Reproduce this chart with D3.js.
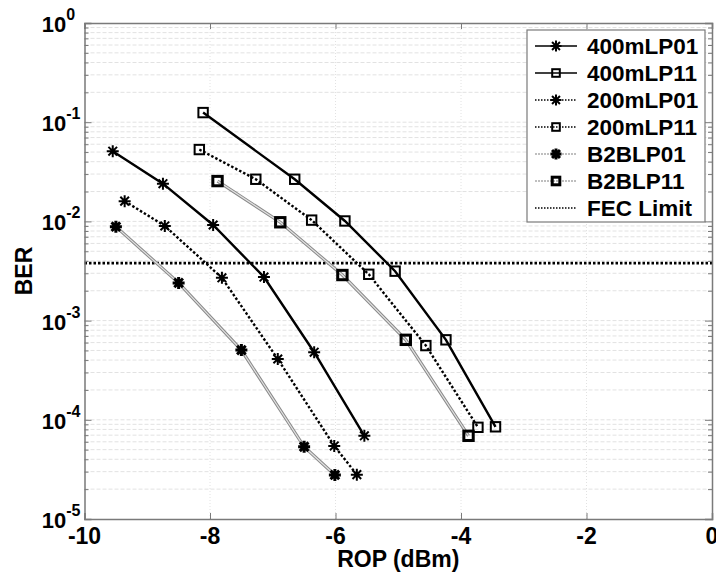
<!DOCTYPE html>
<html>
<head>
<script src="https://d3js.org/d3.v7.min.js"></script>
<style>
  html, body { margin: 0; padding: 0; background: #fff; }
  svg { display: block; font-family: "Liberation Sans", Arial, sans-serif; font-weight: bold; }
</style>
</head>
<body>
<svg id="chart" width="716" height="575"></svg>
<script>
// values
var rop400LP01 = [-9.55, -8.75, -7.95, -7.14, -6.34, -5.54];
var ber400LP01 = [5.1e-2, 2.4e-2, 9.2e-3, 2.75e-3, 4.8e-4, 6.9e-5];
var rop400LP11 = [-8.11, -6.65, -5.85, -5.05, -4.24, -3.45];
var ber400LP11 = [1.25e-1, 2.66e-2, 1.01e-2, 3.15e-3, 6.4e-4, 8.5e-5];
var rop200LP01 = [-9.36, -8.72, -7.81, -6.92, -6.02, -5.66];
var ber200LP01 = [1.6e-2, 9.0e-3, 2.7e-3, 4.1e-4, 5.45e-5, 2.8e-5];
var rop200LP11 = [-8.17, -7.27, -6.38, -5.47, -4.56, -3.73];
var ber200LP11 = [5.3e-2, 2.66e-2, 1.03e-2, 2.93e-3, 5.6e-4, 8.4e-5];
var ropB2BLP01 = [-9.5, -8.5, -7.5, -6.5, -6.01];
var berB2BLP01 = [8.85e-3, 2.4e-3, 5.05e-4, 5.35e-5, 2.78e-5];
var ropB2BLP11 = [-7.88, -6.88, -5.89, -4.88, -3.88];
var berB2BLP11 = [2.55e-2, 9.8e-3, 2.88e-3, 6.4e-4, 6.9e-5];
var fecLimit = 3.8e-3;

var seriesNames = ["400mLP01", "400mLP11", "200mLP01", "200mLP11", "B2BLP01", "B2BLP11"];
var xTicks = [-10, -8, -6, -4, -2, 0];
var yDecades = [-5, -4, -3, -2, -1, 0];

var series = [
  {name: seriesNames[0], x: rop400LP01, y: ber400LP01, line: "solid",  marker: "star"},
  {name: seriesNames[1], x: rop400LP11, y: ber400LP11, line: "solid",  marker: "square"},
  {name: seriesNames[2], x: rop200LP01, y: ber200LP01, line: "dotted", marker: "star"},
  {name: seriesNames[3], x: rop200LP11, y: ber200LP11, line: "dotted", marker: "square"},
  {name: seriesNames[4], x: ropB2BLP01, y: berB2BLP01, line: "gray",   marker: "bstar"},
  {name: seriesNames[5], x: ropB2BLP11, y: berB2BLP11, line: "gray",   marker: "bsquare"}
];

var pLeft = 84.5, pRight = 712, pTop = 23, pBottom = 519;
var svg = d3.select("#chart");

var x = d3.scaleLinear().domain([-10, 0]).range([pLeft, pRight]);
var y = d3.scaleLog().domain([1e-5, 1]).range([pBottom, pTop]);

// minor values for grid/ticks
var minors = [];
yDecades.slice(0, -1).forEach(function(e) {
  for (var k = 2; k <= 9; k++) minors.push(k * Math.pow(10, e));
});
var majors = yDecades.map(function(e) { return Math.pow(10, e); });

// grid
var grid = svg.append("g");
grid.selectAll(".hg").data(minors.concat(majors.slice(1, -1))).enter().append("line")
  .attr("x1", pLeft).attr("x2", pRight)
  .attr("y1", function(d) { return y(d); }).attr("y2", function(d) { return y(d); })
  .attr("stroke", "#e2e2e2").attr("stroke-width", 1).attr("stroke-dasharray", "4,2");
grid.selectAll(".vg").data(xTicks.slice(1, -1)).enter().append("line")
  .attr("x1", function(d) { return x(d); }).attr("x2", function(d) { return x(d); })
  .attr("y1", pTop).attr("y2", pBottom)
  .attr("stroke", "#e2e2e2").attr("stroke-width", 1).attr("stroke-dasharray", "1,2");

// FEC limit
svg.append("line")
  .attr("x1", pLeft).attr("x2", pRight).attr("y1", y(fecLimit)).attr("y2", y(fecLimit))
  .attr("stroke", "#000").attr("stroke-width", 2.6).attr("stroke-dasharray", "2.5,2");

var line = d3.line();

function lineStyle(sel, kind) {
  if (kind === "solid") {
    sel.attr("stroke", "#000").attr("stroke-width", 2.4);
  } else if (kind === "dotted") {
    sel.attr("stroke", "#000").attr("stroke-width", 2.4).attr("stroke-dasharray", "2.5,2");
  }
}

function drawLine(g, pts, kind) {
  if (kind === "gray") {
    g.append("path").attr("d", line(pts)).attr("fill", "none")
      .attr("stroke", "#8a8a8a").attr("stroke-width", 3.2);
    g.append("path").attr("d", line(pts)).attr("fill", "none")
      .attr("stroke", "#e2e2e2").attr("stroke-width", 1.2);
  } else {
    g.append("path").attr("d", line(pts)).attr("fill", "none").call(lineStyle, kind);
  }
}

function drawMarker(g, cx, cy, kind, s) {
  if (kind === "star" || kind === "bstar") {
    var r = s === undefined ? 6 : s;
    var d = r * 0.72;
    var w = kind === "bstar" ? 3 : 2;
    g.append("path")
      .attr("d", "M" + (cx - r) + "," + cy + "H" + (cx + r) +
                 "M" + cx + "," + (cy - r) + "V" + (cy + r) +
                 "M" + (cx - d) + "," + (cy - d) + "L" + (cx + d) + "," + (cy + d) +
                 "M" + (cx - d) + "," + (cy + d) + "L" + (cx + d) + "," + (cy - d))
      .attr("stroke", "#000").attr("stroke-width", w).attr("fill", "none");
  } else {
    var h = s === undefined ? 4.7 : s;
    g.append("rect")
      .attr("x", cx - h).attr("y", cy - h).attr("width", 2 * h).attr("height", 2 * h)
      .attr("fill", "none").attr("stroke", "#000")
      .attr("stroke-width", kind === "bsquare" ? 3 : 2);
  }
}

var plot = svg.append("g");
// draw B2B first so black lines sit over them
[4, 5, 2, 3, 0, 1].forEach(function(i) {
  var s = series[i];
  var pts = s.x.map(function(v, j) { return [x(v), y(s.y[j])]; });
  var g = plot.append("g");
  drawLine(g, pts, s.line);
  pts.forEach(function(p) { drawMarker(g, p[0], p[1], s.marker); });
});

// axes
var axisColor = "#7a7a7a";
var xb = svg.append("g").attr("transform", "translate(0," + pBottom + ")")
  .call(d3.axisBottom(x).tickValues(xTicks).tickSize(-6).tickFormat(""));
var xt = svg.append("g").attr("transform", "translate(0," + pTop + ")")
  .call(d3.axisTop(x).tickValues(xTicks).tickSize(-6).tickFormat(""));
var yl = svg.append("g").attr("transform", "translate(" + pLeft + ",0)")
  .call(d3.axisLeft(y).tickValues(majors).tickSize(-7).tickFormat(""));
var yr = svg.append("g").attr("transform", "translate(" + pRight + ",0)")
  .call(d3.axisRight(y).tickValues(majors).tickSize(-7).tickFormat(""));
var ylm = svg.append("g").attr("transform", "translate(" + pLeft + ",0)")
  .call(d3.axisLeft(y).tickValues(minors).tickSize(-4).tickFormat(""));
var yrm = svg.append("g").attr("transform", "translate(" + pRight + ",0)")
  .call(d3.axisRight(y).tickValues(minors).tickSize(-4).tickFormat(""));
[xb, xt, yl, yr, ylm, yrm].forEach(function(a) {
  a.selectAll("path").attr("stroke", axisColor).attr("stroke-width", 1.5);
  a.selectAll("line").attr("stroke", axisColor).attr("stroke-width", 1);
});
[ylm, yrm].forEach(function(a) { a.select("path").remove(); });

// x tick labels
svg.append("g").selectAll("text").data(xTicks).enter().append("text")
  .attr("x", function(d) { return x(d); })
  .attr("y", 544)
  .attr("text-anchor", "middle")
  .attr("font-size", 23)
  .text(function(d) { return d === 0 ? "0" : "-" + Math.abs(d); });

// y tick labels 10^k
var yl10 = svg.append("g").selectAll("text").data(yDecades).enter().append("text")
  .attr("x", 41.8)
  .attr("y", function(d) { return y(Math.pow(10, d)) + 9; })
  .attr("font-size", 22);
yl10.append("tspan").text("10");
yl10.append("tspan").attr("dy", -12).attr("font-size", 16)
  .text(function(d) { return d === 0 ? "0" : "-" + Math.abs(d); });

// axis titles
svg.append("text")
  .attr("x", (pLeft + pRight) / 2).attr("y", 567)
  .attr("text-anchor", "middle").attr("font-size", 23)
  .text("ROP (dBm)");
svg.append("text")
  .attr("transform", "translate(31.5," + ((pTop + pBottom) / 2) + ") rotate(-90)")
  .attr("text-anchor", "middle").attr("font-size", 23)
  .text("BER");

// legend
var legend = svg.append("g");
legend.append("rect")
  .attr("x", 527).attr("y", 30).attr("width", 178).attr("height", 192)
  .attr("fill", "#fff").attr("stroke", "#7a7a7a").attr("stroke-width", 1.2);
var legendRows = series.map(function(s) { return {name: s.name, line: s.line, marker: s.marker}; });
legendRows.push({name: "FEC Limit", line: "fec", marker: null});
legendRows.forEach(function(r, i) {
  var cy = 46 + i * 27;
  var g = legend.append("g");
  if (r.line === "fec") {
    g.append("line").attr("x1", 535).attr("x2", 577).attr("y1", cy).attr("y2", cy)
      .attr("stroke", "#000").attr("stroke-width", 1.5).attr("stroke-dasharray", "1.5,1.5");
  } else if (r.line === "gray") {
    g.append("line").attr("x1", 535).attr("x2", 577).attr("y1", cy).attr("y2", cy)
      .attr("stroke", "#aaa").attr("stroke-width", 1.5).attr("stroke-dasharray", "2,1");
  } else {
    var l = g.append("line").attr("x1", 535).attr("x2", 577).attr("y1", cy).attr("y2", cy)
      .attr("stroke", "#000").attr("stroke-width", 1.5);
    if (r.line === "dotted") l.attr("stroke-dasharray", "1.5,1.5");
  }
  if (r.marker) {
    var small = (r.marker === "star" || r.marker === "bstar") ? 5.5 : 3.8;
    drawMarker(g, 556, cy, r.marker, small);
  }
  g.append("text").attr("x", 587).attr("y", cy + 7.5).attr("font-size", 22.5).text(r.name);
});
</script>
</body>
</html>
